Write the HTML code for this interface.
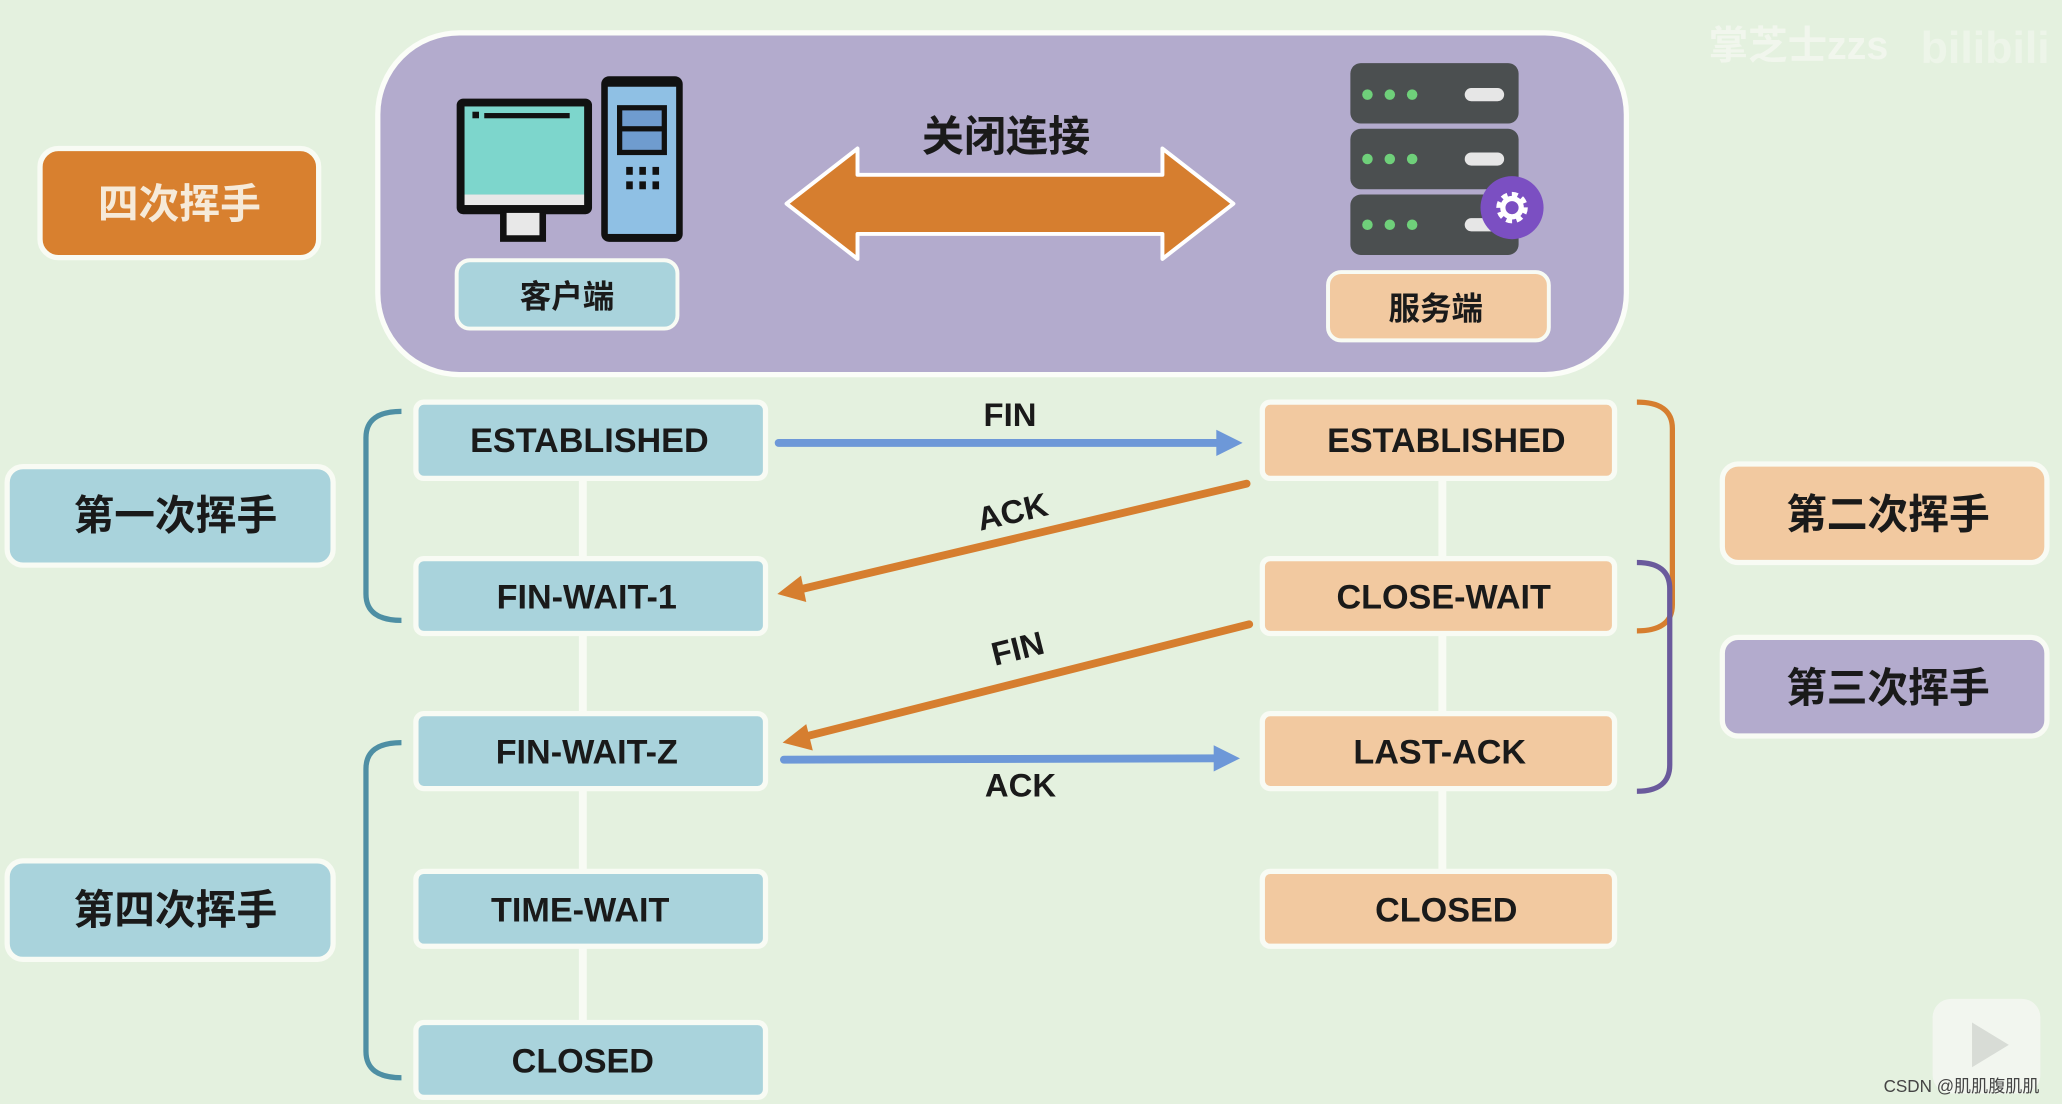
<!DOCTYPE html>
<html><head><meta charset="utf-8"><style>
html,body{margin:0;padding:0;background:#e4f1df;}
svg{display:block}
text{font-family:"Liberation Sans","Noto Sans CJK SC",sans-serif;font-weight:bold;}
</style></head><body>
<svg width="2062" height="1104" viewBox="0 0 1568 840" xmlns="http://www.w3.org/2000/svg">
<rect x="0" y="0" width="1568" height="840" fill="#e4f1df"/>
<!-- top panel -->
<rect x="287" y="25" width="950" height="260" rx="62" fill="#b3abcd" stroke="#fbfdf8" stroke-width="4"/>
<!-- 四次挥手 -->
<rect x="30" y="113" width="212" height="83" rx="14" fill="#d8802f" stroke="#f8fbf4" stroke-width="4"/>
<text x="136" y="166" font-size="31" fill="#f6ead9" text-anchor="middle">四次挥手</text>
<!-- client icon -->
<rect x="347" y="75" width="103" height="88" rx="5" fill="#111"/>
<rect x="353" y="81" width="91" height="67" fill="#7dd6cc"/>
<rect x="353" y="148" width="91" height="8" fill="#e8e8e8"/>
<rect x="380" y="162" width="35" height="22" fill="#111"/>
<rect x="385" y="162" width="25" height="17" fill="#e8e8e8"/>
<rect x="359" y="85" width="5" height="5" fill="#111"/><rect x="368" y="86" width="65" height="4" fill="#111"/>
<rect x="457" y="58" width="62" height="126" rx="6" fill="#111"/>
<rect x="462" y="66" width="52" height="112" fill="#8fc0e4"/>
<rect x="469" y="80" width="38" height="38" fill="#111"/><rect x="473" y="84" width="30" height="12" fill="#6f9ccf"/><rect x="473" y="100" width="30" height="14" fill="#6f9ccf"/>
<g fill="#111"><rect x="476" y="127" width="5" height="6"/><rect x="486" y="127" width="5" height="6"/><rect x="496" y="127" width="5" height="6"/><rect x="476" y="138" width="5" height="6"/><rect x="486" y="138" width="5" height="6"/><rect x="496" y="138" width="5" height="6"/></g>
<rect x="347" y="198" width="168" height="52" rx="10" fill="#a9d3dc" stroke="#f8fbf4" stroke-width="3"/>
<text x="431" y="234" font-size="24" fill="#1a1a1a" text-anchor="middle">客户端</text>
<!-- double arrow -->
<polygon points="598,155 652,113 652,133 884,133 884,113 938,155 884,197 884,178 652,178 652,197" fill="#d67e2f" stroke="#fff" stroke-width="3" stroke-linejoin="round"/>
<text x="765" y="115" font-size="32" fill="#1a1a1a" text-anchor="middle">关闭连接</text>
<!-- server -->
<g>
<rect x="1027" y="48" width="128" height="46" rx="8" fill="#4b4f50"/>
<rect x="1027" y="98" width="128" height="46" rx="8" fill="#4b4f50"/>
<rect x="1027" y="148" width="128" height="46" rx="8" fill="#4b4f50"/>
<g fill="#6fd07a"><circle cx="1040" cy="72" r="4"/><circle cx="1057" cy="72" r="4"/><circle cx="1074" cy="72" r="4"/><circle cx="1040" cy="121" r="4"/><circle cx="1057" cy="121" r="4"/><circle cx="1074" cy="121" r="4"/><circle cx="1040" cy="171" r="4"/><circle cx="1057" cy="171" r="4"/><circle cx="1074" cy="171" r="4"/></g>
<g fill="#e6e6e6"><rect x="1114" y="67" width="30" height="10" rx="5"/><rect x="1114" y="116" width="30" height="10" rx="5"/><rect x="1114" y="166" width="30" height="10" rx="5"/></g>
<circle cx="1150" cy="158" r="24" fill="#7b4fc2"/>
<circle cx="1150" cy="158" r="9" fill="none" stroke="#fff" stroke-width="6" stroke-dasharray="4 3"/>
<circle cx="1150" cy="158" r="7" fill="none" stroke="#fff" stroke-width="4"/>
</g>
<rect x="1010" y="207" width="168" height="52" rx="10" fill="#f2c9a0" stroke="#f8fbf4" stroke-width="3"/>
<text x="1092" y="243" font-size="24" fill="#1a1a1a" text-anchor="middle">服务端</text>
<!-- watermark -->
<text x="1368" y="45" font-size="30" fill="#f4f8f0" opacity="0.85" text-anchor="middle">掌芝士zzs</text>
<text x="1510" y="48" font-size="34" fill="#f4f8f0" opacity="0.6" text-anchor="middle">bilibili</text>
<!-- connectors -->
<g stroke="#f8fbf4" stroke-width="6">
<line x1="443" y1="364" x2="443" y2="778"/>
<line x1="1097" y1="364" x2="1097" y2="663"/>
</g>
<!-- left boxes -->
<g fill="#a9d3dc" stroke="#f8fbf4" stroke-width="4">
<rect x="316" y="306" width="266" height="58" rx="6"/>
<rect x="316" y="425" width="266" height="57" rx="6"/>
<rect x="316" y="543" width="266" height="57" rx="6"/>
<rect x="316" y="663" width="266" height="57" rx="6"/>
<rect x="316" y="778" width="266" height="57" rx="6"/>
</g>
<g fill="#f2c9a0" stroke="#f8fbf4" stroke-width="4">
<rect x="960" y="306" width="268" height="58" rx="6"/>
<rect x="960" y="425" width="268" height="57" rx="6"/>
<rect x="960" y="543" width="268" height="57" rx="6"/>
<rect x="960" y="663" width="268" height="57" rx="6"/>
</g>
<g font-size="26" fill="#1a1a1a" text-anchor="middle">
<text x="448" y="344">ESTABLISHED</text>
<text x="446" y="463">FIN-WAIT-1</text>
<text x="446" y="581">FIN-WAIT-Z</text>
<text x="441" y="701">TIME-WAIT</text>
<text x="443" y="816">CLOSED</text>
<text x="1100" y="344">ESTABLISHED</text>
<text x="1098" y="463">CLOSE-WAIT</text>
<text x="1095" y="581">LAST-ACK</text>
<text x="1100" y="701">CLOSED</text>
</g>
<!-- side labels -->
<rect x="5" y="355" width="248" height="75" rx="12" fill="#a9d3dc" stroke="#f8fbf4" stroke-width="4"/>
<text x="133" y="403" font-size="31" fill="#1a1a1a" text-anchor="middle">第一次挥手</text>
<rect x="5" y="655" width="248" height="75" rx="12" fill="#a9d3dc" stroke="#f8fbf4" stroke-width="4"/>
<text x="133" y="703" font-size="31" fill="#1a1a1a" text-anchor="middle">第四次挥手</text>
<rect x="1310" y="353" width="247" height="75" rx="12" fill="#f2c9a0" stroke="#f8fbf4" stroke-width="4"/>
<text x="1436" y="402" font-size="31" fill="#1a1a1a" text-anchor="middle">第二次挥手</text>
<rect x="1310" y="485" width="247" height="75" rx="12" fill="#b3abcd" stroke="#f8fbf4" stroke-width="4"/>
<text x="1436" y="534" font-size="31" fill="#1a1a1a" text-anchor="middle">第三次挥手</text>
<!-- brackets -->
<g fill="none" stroke-width="4">
<path d="M305,313 Q278,313 278,333 L278,452 Q278,472 305,472" stroke="#4e8fa4"/>
<path d="M305,565 Q278,565 278,585 L278,800 Q278,820 305,820" stroke="#4e8fa4"/>
<path d="M1245,306 Q1272,306 1272,326 L1272,460 Q1272,480 1245,480" stroke="#d67e2f"/>
<path d="M1245,428 Q1270,428 1270,448 L1270,582 Q1270,602 1245,602" stroke="#6a5a9c"/>
</g>
<!-- arrows -->
<g stroke-width="6" stroke-linecap="round">
<line x1="592" y1="337" x2="930" y2="337" stroke="#6d98d8"/>
<polygon points="945,337 925,327 925,347" fill="#6d98d8" stroke="none"/>
<line x1="948" y1="368" x2="606" y2="449" stroke="#d67e2f"/>
<polygon points="591,452 609,438 613,458" fill="#d67e2f" stroke="none"/>
<line x1="950" y1="475" x2="610" y2="561" stroke="#d67e2f"/>
<polygon points="595,565 613,551 618,571" fill="#d67e2f" stroke="none"/>
<line x1="596" y1="578" x2="928" y2="577" stroke="#6d98d8"/>
<polygon points="943,577 923,567 923,587" fill="#6d98d8" stroke="none"/>
</g>
<g font-size="25" fill="#1a1a1a" text-anchor="middle">
<text x="768" y="324">FIN</text>
<text x="770" y="398" transform="rotate(-13 770 390)">ACK</text>
<text x="774" y="502" transform="rotate(-14 774 494)">FIN</text>
<text x="776" y="606">ACK</text>
</g>
<!-- bottom right -->
<rect x="1470" y="760" width="82" height="72" rx="14" fill="#f3f6f1" opacity="0.9"/>
<polygon points="1500,778 1500,812 1528,795" fill="#d8dcd6"/>
<text x="1492" y="831" font-size="13" font-weight="normal" fill="#444" text-anchor="middle" style="font-weight:normal">CSDN @肌肌腹肌肌</text>
</svg>
</body></html>
